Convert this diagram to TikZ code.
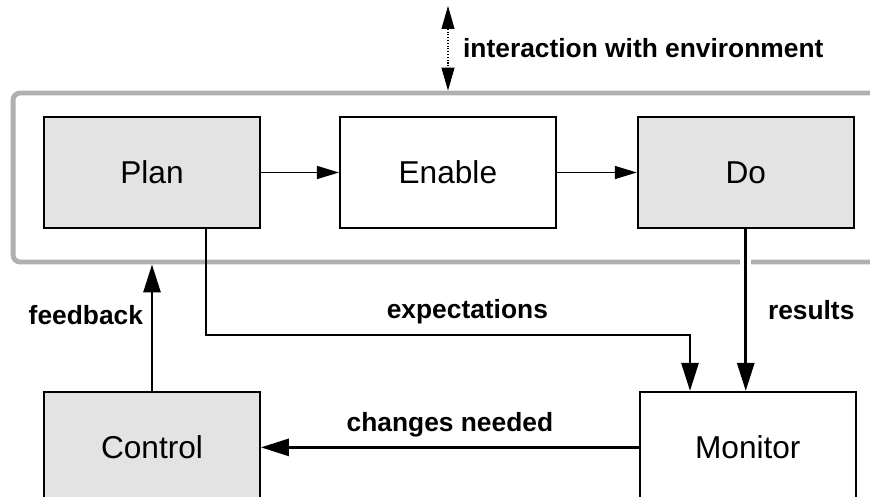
\documentclass[tikz,border=0pt]{standalone}
\usepackage{fontspec}
\setmainfont{Liberation Sans}
\usetikzlibrary{arrows.meta,positioning}

\tikzset{
  stage/.style={draw, line width=1.1pt, minimum width=4.32cm, minimum height=2.22cm, inner sep=0pt, font=\fontsize{18}{20}\selectfont},
  shaded/.style={stage, fill=gray!22},
  flow/.style={line width=1.6pt, -{Triangle[length=0.56cm, width=0.34cm]}},
  link/.style={line width=0.9pt, -{Triangle[length=0.44cm, width=0.26cm]}},
  lbl/.style={font=\fontsize{15}{17}\selectfont\bfseries},
  envframe/.style={draw=gray!62, line width=2.8pt, rounded corners=4pt, minimum width=17.74cm, minimum height=3.38cm, inner sep=0pt},
  halo/.style={preaction={draw=white, line width=6pt, -}}
}

\begin{document}
\begin{tikzpicture}[x=0.02cm, y=-0.02cm]
    \useasboundingbox (0,0) rectangle (870,497);
    \clip (0,0) rectangle (870,497);

    % frame round the three stages
    \node[envframe] (env) at (456.5,177.5) {};

    \node[shaded] (plan) at (152,172.5) {Plan};
    \node[stage, right=1.56cm of plan] (enable) {Enable};
    \node[shaded, right=1.6cm of enable] (do) {Do};
    \node[shaded, below=3.24cm of plan] (control) {Control};
    \node[stage, right=7.56cm of control] (monitor) {Monitor};

    \coordinate (outside) at (448,6);
    \coordinate (expbend) at (690,335);

    \draw[link] (plan) -- (enable);
    \draw[link] (enable) -- (do);
    \draw[line width=0.6pt, densely dotted, {Triangle[length=0.46cm, width=0.26cm]}-{Triangle[length=0.46cm, width=0.26cm]}] (outside) -- (outside |- env.north) node[lbl, midway, right=5pt] {interaction with environment};

    \draw[flow] (control.north) -- (control.north |- env.south) node[lbl, pos=0.6, left=1pt] {feedback};
    \draw[flow] ([xshift=1.08cm]plan.south) |- (expbend) node[lbl, pos=0.77, above=2pt] {expectations} -- (expbend |- monitor.north);
    \draw[flow, halo] (do.south) -- (do.south |- monitor.north) node[lbl, midway, right=0.3cm] {results};
    \draw[flow] (monitor.west) -- (monitor.west -| control.east) node[lbl, midway, above=2pt] {changes needed};
\end{tikzpicture}
\end{document}
